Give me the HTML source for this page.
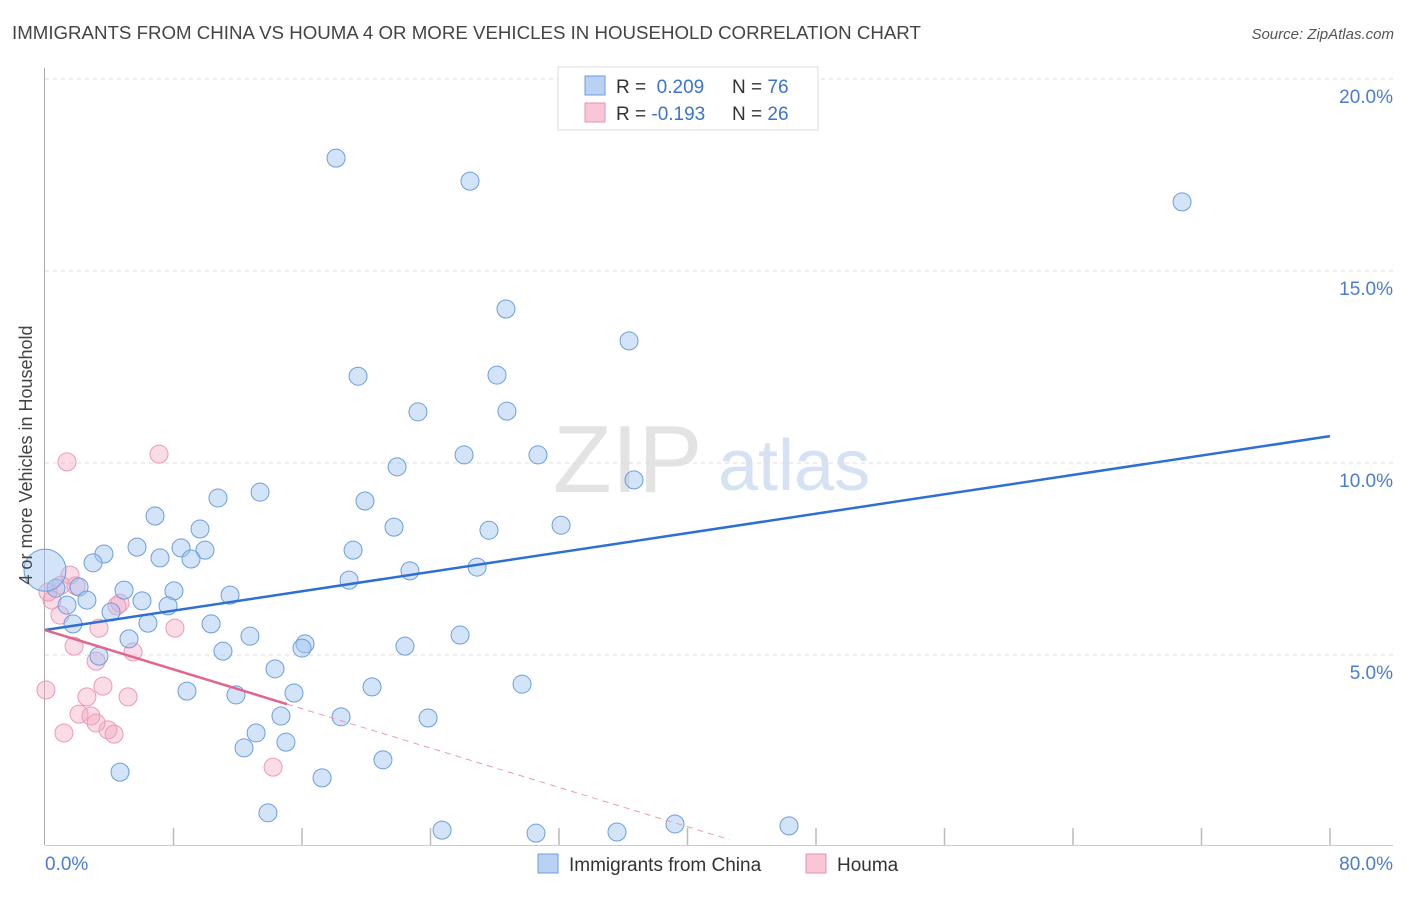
<!DOCTYPE html>
<html><head><meta charset="utf-8"><style>
body{margin:0;background:#fff;font-family:"Liberation Sans",sans-serif}
svg text{font-family:"Liberation Sans",sans-serif}
</style></head><body>
<svg id="c" width="1406" height="892">
<text x="12" y="39" font-size="18.7" fill="#444">IMMIGRANTS FROM CHINA VS HOUMA 4 OR MORE VEHICLES IN HOUSEHOLD CORRELATION CHART</text>
<text x="1394" y="39" font-size="15" fill="#555" font-style="italic" text-anchor="end">Source: ZipAtlas.com</text>
<g><text x="553" y="492" font-size="96" font-family="Liberation Serif,serif" fill="#e3e3e3">ZIP</text><text x="718" y="490" font-size="72" fill="#d4e2f4">atlas</text></g>
<g id="grid"></g><g id="marks"></g>
<text transform="translate(32,455) rotate(-90)" font-size="18" fill="#444" text-anchor="middle">4 or more Vehicles in Household</text>
<g>
<rect x="558" y="67" width="260" height="63" fill="#fff" stroke="#ddd"/>
<rect x="585" y="76" width="20" height="19" fill="#b9d2f4" stroke="#6a9ee0"/>
<rect x="585" y="103" width="20" height="19" fill="#f9c6d6" stroke="#e890b0"/>
<text x="616" y="93" font-size="19" fill="#333">R = <tspan fill="#3b73d0">&#160;0.209</tspan><tspan x="732">N = </tspan><tspan fill="#3b73d0">76</tspan></text>
<text x="616" y="120" font-size="19" fill="#333">R = <tspan fill="#3b73d0">-0.193</tspan><tspan x="732">N = </tspan><tspan fill="#3b73d0">26</tspan></text>
</g>
<g>
<rect x="538" y="854" width="20" height="19" fill="#b9d2f4" stroke="#6a9ee0"/>
<text x="569" y="871" font-size="19" fill="#333">Immigrants from China</text>
<rect x="806" y="854" width="20" height="19" fill="#f9c6d6" stroke="#e890b0"/>
<text x="837" y="871" font-size="19" fill="#333">Houma</text>
</g>
</svg>
<script>
const xTicks=[8,16,24,32,40,48,56,64,72,80];
const yTicks=[5,10,15,20];
const chinaX=[18.12,26.46,70.79,28.70,36.36,19.49,28.14,23.22,28.76,30.69,26.09,21.92,36.67,10.77,13.39,19.92,6.85,9.65,21.73,27.64,32.13,5.73,8.47,9.96,19.18,3.67,7.16,9.09,2.99,22.72,26.90,18.93,0.68,2.12,4.92,8.03,11.52,2.61,6.04,7.66,1.37,4.11,6.41,10.34,1.74,5.23,12.76,16.19,16.00,25.84,22.41,11.08,3.36,14.32,8.84,11.89,15.50,20.36,29.70,23.85,18.43,14.69,13.14,15.00,12.39,21.04,4.67,17.25,13.88,24.72,30.57,35.61,39.22,46.32,0];
const chinaY=[17.94,17.34,16.80,14.01,13.18,12.26,12.29,11.33,11.35,10.21,10.21,9.90,9.56,9.09,9.24,9.01,8.62,8.28,8.33,8.25,8.38,7.81,7.79,7.73,7.73,7.63,7.53,7.50,7.40,7.19,7.29,6.95,6.74,6.77,6.69,6.67,6.56,6.43,6.41,6.28,6.30,6.12,5.83,5.81,5.81,5.42,5.49,5.29,5.18,5.52,5.23,5.10,4.97,4.64,4.06,3.96,4.01,4.17,4.24,3.36,3.39,3.41,2.97,2.73,2.58,2.27,1.95,1.80,0.89,0.44,0.36,0.39,0.60,0.55,7.21];
const houmaX=[1.37,7.10,1.56,0.44,0.19,0.93,4.67,3.36,1.93,1.81,3.18,5.48,8.09,0.06,2.61,5.17,3.61,2.12,2.86,3.92,4.30,1.18,3.18,14.20,1.00,4.48];
const houmaY=[10.03,10.23,7.08,6.43,6.64,6.04,6.35,5.70,6.80,5.23,4.84,5.08,5.70,4.09,3.91,3.91,4.19,3.46,3.41,3.05,2.94,2.97,3.23,2.08,6.82,6.28];
const chinaTrend=[5.65,10.70];
const houmaTrend=[5.65,3.72];
const houmaTrendX=[15.07,42.6];
const NS="http://www.w3.org/2000/svg";
const X0=45,X1=1330,Y0=847,YS=192/5;
const sx=v=>X0+(v/80)*(X1-X0), sy=v=>Y0-v*YS;
function mk(t,a,p){const e=document.createElementNS(NS,t);for(const k in a)e.setAttribute(k,a[k]);p.appendChild(e);return e;}
const g=document.getElementById('grid'), m=document.getElementById('marks');
yTicks.forEach(v=>{
 const l=mk('line',{x1:45,x2:1393,y1:sy(v),y2:sy(v),stroke:'#ddd','stroke-dasharray':'4,4'},g);
 
 
 const t=mk('text',{x:1393,y:sy(v)+24,'font-size':19,fill:'#4a7cd0','text-anchor':'end'},g);
 t.textContent=v.toFixed(1)+'%';
 
 
});
mk('line',{x1:44.5,x2:44.5,y1:68,y2:845,stroke:'#aaa'},g);
mk('line',{x1:45,x2:1393,y1:845.5,y2:845.5,stroke:'#ccc'},g);
xTicks.forEach(v=>{
 const l=mk('line',{x1:sx(v),x2:sx(v),y1:828,y2:845,stroke:'#bbb','stroke-width':1.5},g);
 
 
});
[['0.0%',45,'start'],['80.0%',1393,'end']].forEach(a=>{
 const t=mk('text',{x:a[1],y:870,'font-size':19,fill:'#4a7cd0','text-anchor':a[2]},g);
 t.textContent=a[0];
 
 
});
houmaX.forEach((x,i)=>{
 const c=mk('circle',{cx:sx(x),cy:sy(houmaY[i]),r:9,fill:'rgba(245,165,192,0.4)',stroke:'#eb9ab6','stroke-width':1},m);
 
 
});
chinaX.forEach((x,i)=>{
 const big=i===chinaX.length-1;
 const c=mk('circle',{cx:sx(x),cy:sy(chinaY[i]),r:big?21:9,fill:'rgba(160,196,240,0.45)',stroke:'#6a9ee0','stroke-width':1},m);
 
 
});
const bl=mk('line',{x1:sx(0),y1:sy(chinaTrend[0]),x2:sx(80),y2:sy(chinaTrend[1]),stroke:'#2e6fd6','stroke-width':2.5},m);


const slope=(houmaTrend[1]-houmaTrend[0])/houmaTrendX[0];
const pd=mk('line',{x1:sx(houmaTrendX[0]),y1:sy(houmaTrend[1]),x2:sx(houmaTrendX[1]),y2:sy(houmaTrend[0]+slope*houmaTrendX[1]),stroke:'#eb9ab6','stroke-width':1,'stroke-dasharray':'6,5'},m);


const pl=mk('line',{x1:sx(0),y1:sy(houmaTrend[0]),x2:sx(houmaTrendX[0]),y2:sy(houmaTrend[1]),stroke:'#e2658f','stroke-width':2.5},m);


</script>
</body></html>
